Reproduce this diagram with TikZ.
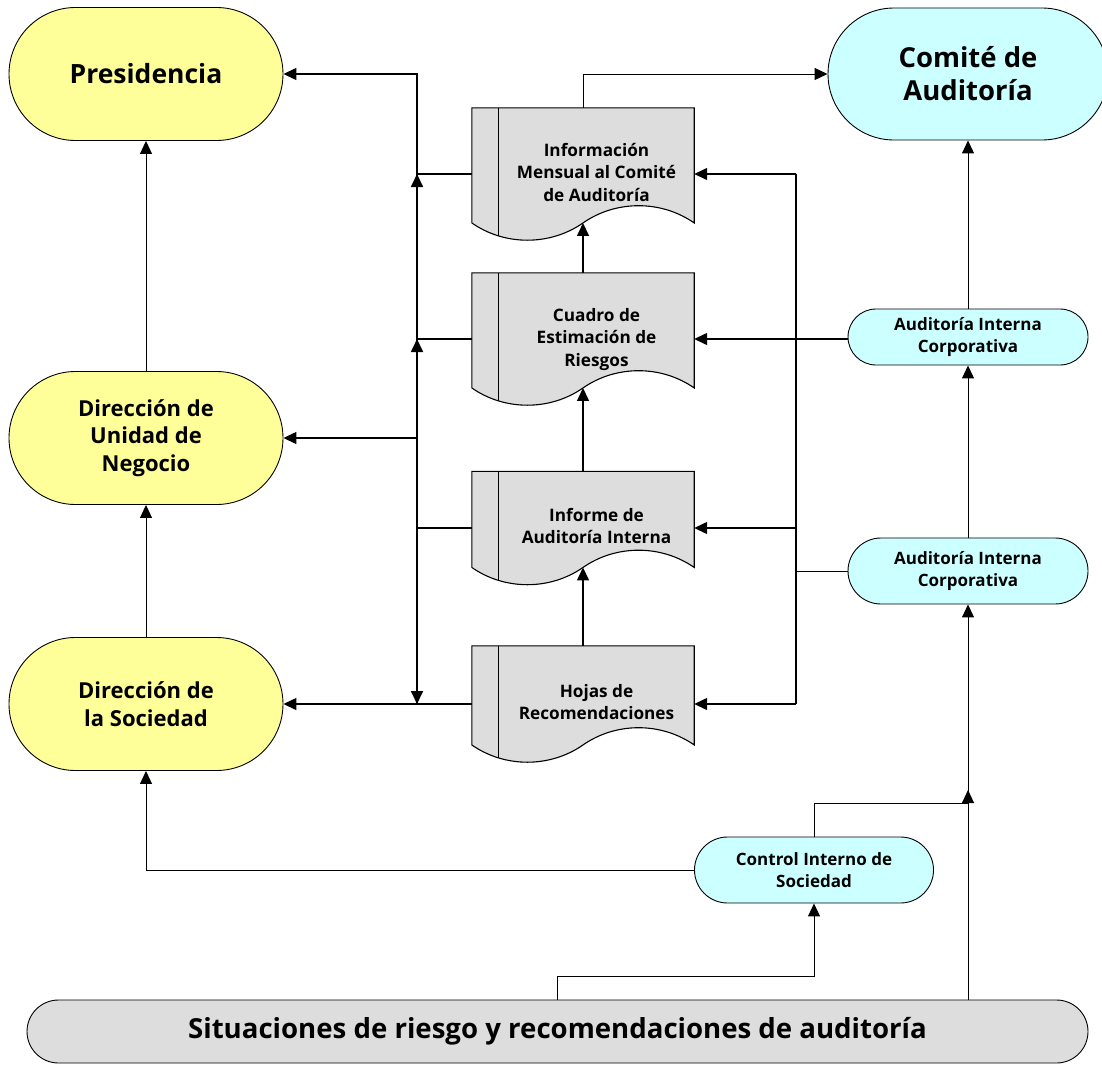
\documentclass[tikz,border=0pt]{standalone}
\usepackage{fontspec}
\setmainfont{Open Sans}
\usetikzlibrary{shapes.misc,arrows.meta,calc,backgrounds}
\definecolor{yel}{HTML}{FFFF99}
\definecolor{cya}{HTML}{CCFFFF}
\definecolor{gry}{HTML}{DDDDDD}
\newcommand\mkdoc[1]{%
  \begin{pgfonlayer}{background}
  \draw[docst] (#1.north west) -- (#1.north east) -- ($(#1.south east)+(0,-17.25)$)
    .. controls +(-33,-23) and +(33,-23) .. ($(#1.south)+(0,-17.25)$)
    .. controls +(-33,23) and +(33,23) .. ($(#1.south west)+(0,-17.25)$) -- cycle;
  \draw[docst] ($(#1.north west)+(27,0)$) -- ($(#1.south west)+(27,-4.3)$);
  \end{pgfonlayer}
  \coordinate (#1w) at ($(#1.south)+(0,-17.25)$);
}
\newcommand\doctext[1]{\hspace*{27pt}\begin{tabular}{@{}c@{}}#1\end{tabular}}
\begin{document}
\begin{tikzpicture}[x=1pt,y=-1pt,
  stad/.style={rounded rectangle, draw=black, line width=0.9pt, align=center, inner sep=0pt},
  yst/.style={stad, fill=yel, minimum width=274pt, minimum height=133pt},
  bigf/.style={font=\bfseries\fontsize{27.5}{33}\selectfont},
  midf/.style={font=\bfseries\fontsize{22}{27.5}\selectfont},
  smf/.style={font=\bfseries\fontsize{17}{22}\selectfont},
  docbox/.style={minimum width=222pt, inner sep=0pt, font=\bfseries\fontsize{17.2}{22.5}\selectfont},
  docst/.style={draw=black, fill=gry, line width=1.1pt},
  arr/.style={-{Triangle[length=13pt,width=12pt]}},
  ln/.style={line width=1pt},
  md/.style={line width=1.4pt},
  bus/.style={line width=1.7pt},
]
\useasboundingbox (0,0) rectangle (1102,1065);

% left column
\node[yst, font=\bfseries\fontsize{26.5}{33}\selectfont] (pres) at (146,74) {Presidencia};
\node[yst, midf] (uni) at (146,438) {Dirección de\\Unidad de\\Negocio};
\node[yst, midf] (soc) at (146,704) {Dirección de\\la Sociedad};

% right column
\node[stad, fill=cya, bigf, minimum width=280pt, minimum height=132pt] (com) at (968,74) {Comité de\\Auditoría};
\node[stad, fill=cya, smf, minimum width=240pt, minimum height=56pt] (aic1) at (968,337) {Auditoría Interna\\Corporativa};
\node[stad, fill=cya, smf, minimum width=240pt, minimum height=66pt] (aic2) at (968,571) {Auditoría Interna\\Corporativa};
\node[stad, fill=cya, smf, minimum width=239pt, minimum height=66pt] (ci) at (814,870) {Control Interno de\\Sociedad};

% bottom
\node[stad, fill=gry, font=\bfseries\fontsize{27.6}{30}\selectfont, minimum width=1061pt, minimum height=63pt] (sit) at (557.5,1031.5) {Situaciones de riesgo y recomendaciones de auditoría};

% documents
\node[docbox, minimum height=132pt] (d1) at (583,174) {\doctext{Información\\Mensual al Comité\\de Auditoría}};
\mkdoc{d1}
\node[docbox, minimum height=132pt] (d2) at (583,339) {\doctext{Cuadro de\\Estimación de\\Riesgos}};
\mkdoc{d2}
\node[docbox, minimum height=113pt] (d3) at (583,528) {\doctext{Informe de\\Auditoría Interna}};
\mkdoc{d3}
\node[docbox, minimum height=116pt] (d4) at (583,704) {\doctext{Hojas de\\Recomendaciones}};
\mkdoc{d4}

\coordinate (lb) at (417,0);
\coordinate (rb) at (796,0);
\coordinate (m1) at (968,803);

% left bus
\draw[md,arr] (d1.west) -- (d1.west -| lb) |- (pres.east);
\draw[bus,arr] (d4.west -| lb) -- (d1.west -| lb);
\draw[bus,arr] (d4.west -| lb) -- (d2.west -| lb);
\draw[bus,arr] (d1.west -| lb) -- (d4.west -| lb);
\draw[md] (d2.west) -- (d2.west -| lb);
\draw[md] (d3.west) -- (d3.west -| lb);
\draw[md,arr] (d4.west) -- (soc.east);
\draw[md,arr] (uni.east -| lb) -- (uni.east);

% right bus
\draw[bus] (d1.east -| rb) -- (d4.east -| rb);
\draw[md,arr] (d1.east -| rb) -- (d1.east);
\draw[md,arr] (d3.east -| rb) -- (d3.east);
\draw[md,arr] (d4.east -| rb) -- (d4.east);
\draw[ln] (aic2.west) -- (aic2.west -| rb);
\draw[md,arr] (aic1.west |- d2.east) -- (d2.east);

% centre column
\draw[ln,arr] (d1.north) |- (com.west);
\draw[md,arr] (d2.north) -- (d1w);
\draw[md,arr] (d3.north) -- (d2w);
\draw[md,arr] (d4.north) -- (d3w);

% left verticals
\draw[ln,arr] (uni.north) -- (pres.south);
\draw[ln,arr] (soc.north) -- (uni.south);
\draw[ln,arr] (ci.west) -| (soc.south);

% right verticals
\draw[ln,arr] (aic1.north) -- (aic1.north |- com.south);
\draw[ln,arr] (aic2.north) -- (aic1.south);
\draw[ln,arr] (aic2.south |- sit.north) -- (aic2.south);
\draw[ln] (ci.north) |- (m1);
\draw[ln,arr] (m1) -- ++(0,-13);
\draw[ln,arr] (sit.north) -- ++(0,-23) -| (ci.south);
\end{tikzpicture}
\end{document}
